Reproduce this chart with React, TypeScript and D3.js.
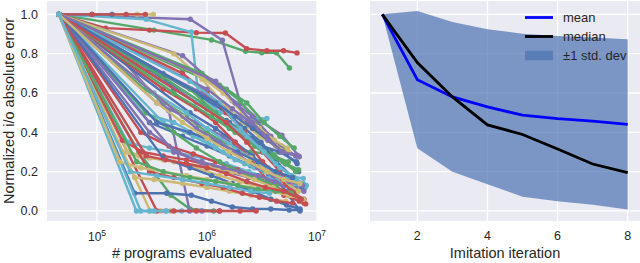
import React, { useEffect, useRef } from "react";
import * as d3 from "d3";

const palette = ["#4C72B0", "#55A868", "#C44E52", "#8172B2", "#CCB974", "#64B5CD"];

// programs evaluated (thousands), one row per search trace
const traceX: number[][] = [
  [45, 300, 800, 1600, 2600, 3800, 5200, 6800],
  [45, 330, 1100, 2240, 3150, 4270, 5620],
  [45, 120, 300, 800, 1470, 2290, 3500, 4970, 6580],
  [45, 705, 1380, 2013, 3000, 4800, 6900],
  [45, 137, 231, 325],
  [45, 280, 720, 830, 1300, 2480, 3500],
  [45, 90, 137],
  [45, 240, 470, 700, 1150],
  [45, 90, 184, 275],
  [45, 150, 450, 695, 900, 1300],
  [45, 305, 380, 470],
  [45, 228, 300, 420, 590],
  [45, 220, 430, 720, 1100, 1700, 2600, 3800, 5600, 7000],
  [45, 270, 420, 650, 1000, 1600, 2500, 3800, 5400],
  [45, 350, 500, 800, 1300, 2000, 2800],
  [45, 400, 900, 1500, 2300, 3400, 4800, 6400],
  [45, 190, 300, 500, 800, 1300, 2000, 3200, 4600],
  [45, 250, 330, 430],
  [45, 500, 1000, 1500, 2200, 3200, 4600, 6500],
  [45, 600, 1300, 2000, 2900, 4000, 5300],
  [45, 170, 260, 400, 650, 1100, 1800, 2900, 4300, 6000, 7600],
  [45, 350, 800, 1400, 2100, 3000, 4200, 5800],
  [45, 220, 330, 600, 1000, 1600, 2500, 3800, 5200],
  [45, 190, 300, 500, 900, 1500, 2400, 3600, 5200, 7800],
  [45, 700, 1200, 1800, 2600, 3700, 5200, 7000],
  [45, 400, 900, 1600, 2500, 3600, 4900, 6400],
  [45, 400, 800, 1200, 1800, 2600, 3600, 5000, 6900],
  [45, 600, 1100, 1700, 2600, 3800, 5200, 6800],
  [45, 500, 900, 1400, 2100, 3000, 4200, 5500],
  [45, 330, 650, 1000, 1600, 2500, 3600, 5200, 7500],
  [45, 300, 600, 1000, 1600, 2500, 3600, 5000, 6800],
  [45, 500, 1100, 1800, 2800, 4000, 5500],
  [45, 250, 450, 750, 1200, 1900, 2900, 4200, 6000, 7900],
  [45, 300, 550, 900, 1500, 2400, 3500, 5000, 7000],
  [45, 800, 1400, 2100, 3000, 4100, 5400],
  [45, 260, 500, 850, 1400, 2200, 3300, 4800, 7000],
  [45, 900, 1500, 2200, 3100, 4300, 5800, 7300],
  [45, 280, 500, 800, 1300, 2000, 3000, 4300],
  [45, 600, 1000, 1500, 2200, 3200, 4600, 6400],
  [45, 1000, 1700, 2500, 3500, 4800, 6500],
  [45, 170, 240, 400, 650, 1050, 1700, 2700, 4000, 5800],
  [45, 700, 1300, 2000, 3000, 4200, 5800, 7800],
  [45, 400, 700, 1100, 1700, 2600, 3800, 5300, 7000],
  [45, 700, 1200, 1800, 2700, 3800, 5200, 6800],
  [45, 300, 500, 900, 1400, 2100, 3000, 4300, 6000],
  [45, 500, 900, 1400, 2000, 2900, 4100, 5800, 7600],
  [45, 600, 1000, 1600, 2500, 3600, 5000, 6800],
  [45, 800, 1500, 2300, 3300, 4600, 6200, 8000],
  [45, 1200, 1800, 2600, 3600, 4900, 6600],
  [45, 900, 1500, 2300, 3300, 4600, 6200],
  [45, 1500, 2300, 3200, 4400, 5800, 7600],
  [45, 1200, 1800, 2600, 3600, 4800, 6500],
  [45, 160, 250, 400, 650, 1000, 1600, 2500, 3800, 5500, 7500],
  [45, 400, 750, 1200, 1800, 2700, 3900, 5400, 7500],
  [45, 350, 700, 1200, 1900, 2900, 4200, 6000],
  [45, 230, 400, 700, 1200, 1900, 2900, 4200, 5800],
  [45, 280, 420, 650, 1000, 1500, 2300, 3400, 5000, 7200],
  [45, 800, 1300, 2000, 2900, 4000, 5600, 7400],
  [45, 350, 600, 1000, 1600, 2400, 3500, 5000, 7000],
  [45, 200, 350, 600, 1000, 1600, 2500, 3700],
];

// normalized i/o absolute error, same rows
const traceY: number[][] = [
  [1, 0.72, 0.55, 0.45, 0.37, 0.3, 0.24, 0.2],
  [1, 0.92, 0.87, 0.812, 0.805, 0.805, 0.727],
  [1, 0.93, 0.92, 0.907, 0.905, 0.826, 0.815, 0.815, 0.804],
  [1, 0.975, 0.868, 0.548, 0.46, 0.386, 0.276],
  [1, 1, 1, 1],
  [1, 0.975, 0.91, 0.6, 0.5, 0.47, 0.47],
  [1, 1, 1],
  [1, 0.3, 0.08, 0.01, 0],
  [1, 1, 1, 1],
  [1, 0.8, 0.51, 0, 0, 0],
  [1, 0, 0, 0],
  [1, 0, 0, 0, 0],
  [1, 0.09, 0.09, 0.08, 0.05, 0.02, 0.01, 0.01, 0.005, 0.005],
  [1, 0.62, 0.55, 0.48, 0.4, 0.33, 0.3, 0.29, 0.3],
  [1, 0, 0, 0, 0, 0, 0],
  [1, 0.7, 0.6, 0.52, 0.45, 0.38, 0.33, 0.28],
  [1, 0.3, 0.27, 0.25, 0.22, 0.18, 0.15, 0.12, 0.1],
  [1, 0, 0, 0],
  [1, 0.62, 0.52, 0.46, 0.38, 0.33, 0.3, 0.25],
  [1, 0.72, 0.64, 0.56, 0.45, 0.36, 0.31],
  [1, 0.36, 0.3, 0.28, 0.26, 0.23, 0.2, 0.16, 0.12, 0.08, 0.04],
  [1, 0.55, 0.45, 0.38, 0.3, 0.25, 0.2, 0.15],
  [1, 0.17, 0.16, 0.14, 0.12, 0.1, 0.08, 0.06, 0.05],
  [1, 0.35, 0.32, 0.3, 0.27, 0.24, 0.2, 0.17, 0.15, 0.12],
  [1, 0.5, 0.42, 0.35, 0.28, 0.2, 0.1, 0.0],
  [1, 0.68, 0.55, 0.42, 0.35, 0.3, 0.25, 0.2],
  [1, 0.62, 0.52, 0.45, 0.35, 0.25, 0.15, 0.08, 0.05],
  [1, 0.79, 0.66, 0.56, 0.48, 0.38, 0.3, 0.28],
  [1, 0.8, 0.67, 0.55, 0.45, 0.38, 0.33, 0.3],
  [1, 0.6, 0.5, 0.42, 0.34, 0.27, 0.22, 0.18, 0.166],
  [1, 0.45, 0.38, 0.33, 0.28, 0.23, 0.19, 0.16, 0.14],
  [1, 0.6, 0.48, 0.4, 0.33, 0.28, 0.25],
  [1, 0.4, 0.33, 0.29, 0.25, 0.21, 0.17, 0.12, 0.08, 0.036],
  [1, 0.4, 0.3, 0.24, 0.2, 0.17, 0.15, 0.13, 0.12],
  [1, 0.7, 0.6, 0.5, 0.42, 0.36, 0.32],
  [1, 0.5, 0.45, 0.38, 0.3, 0.24, 0.2, 0.15, 0.13],
  [1, 0.58, 0.5, 0.42, 0.35, 0.25, 0.18, 0.12],
  [1, 0.5, 0.4, 0.32, 0.25, 0.2, 0.16, 0.13],
  [1, 0.7, 0.6, 0.5, 0.4, 0.3, 0.2, 0.1],
  [1, 0.62, 0.52, 0.45, 0.38, 0.3, 0.28],
  [1, 0.3, 0.28, 0.26, 0.24, 0.22, 0.2, 0.16, 0.12, 0.08],
  [1, 0.66, 0.55, 0.42, 0.32, 0.24, 0.18, 0.13],
  [1, 0.27, 0.22, 0.18, 0.14, 0.1, 0.06, 0.03, 0.01],
  [1, 0.62, 0.5, 0.42, 0.33, 0.28, 0.24, 0.21],
  [1, 0.2, 0.17, 0.14, 0.12, 0.09, 0.07, 0.05, 0.04],
  [1, 0.3, 0.25, 0.22, 0.2, 0.18, 0.15, 0.12, 0.1],
  [1, 0.48, 0.38, 0.32, 0.27, 0.2, 0.15, 0.1],
  [1, 0.55, 0.45, 0.38, 0.3, 0.22, 0.17, 0.13],
  [1, 0.55, 0.48, 0.42, 0.36, 0.3, 0.24],
  [1, 0.7, 0.62, 0.55, 0.45, 0.38, 0.32],
  [1, 0.45, 0.35, 0.25, 0.18, 0.1, 0.06],
  [1, 0.66, 0.55, 0.45, 0.36, 0.3, 0.285],
  [1, 0.25, 0.22, 0.2, 0.18, 0.16, 0.14, 0.12, 0.1, 0.08, 0.06],
  [1, 0.45, 0.38, 0.32, 0.26, 0.22, 0.19, 0.16, 0.14],
  [1, 0.45, 0.4, 0.35, 0.3, 0.25, 0.2, 0.17],
  [1, 0.25, 0.2, 0.17, 0.15, 0.13, 0.11, 0.1, 0.09],
  [1, 0.28, 0.26, 0.24, 0.22, 0.19, 0.15, 0.12, 0.1, 0.06],
  [1, 0.42, 0.35, 0.28, 0.22, 0.18, 0.15, 0.13],
  [1, 0.55, 0.45, 0.37, 0.3, 0.25, 0.2, 0.16, 0.14],
  [1, 0.2, 0.18, 0.16, 0.14, 0.12, 0.1, 0.09],
];

const iterations = [1, 2, 3, 4, 5, 6, 7, 8];
const meanErr = [1.0, 0.668, 0.58, 0.53, 0.487, 0.47, 0.457, 0.44];
const medianErr = [1.0, 0.755, 0.58, 0.438, 0.389, 0.315, 0.239, 0.195];
const stdErr = [0, 0.349, 0.381, 0.394, 0.415, 0.42, 0.425, 0.433];

const yTicks = [0, 0.2, 0.4, 0.6, 0.8, 1.0];
const logTicks = [1e5, 1e6, 1e7];
const iterTicks = [2, 4, 6, 8];
const legendLabels = ["mean", "median", "±1 std. dev"];

const font = "'Liberation Sans', Arial, sans-serif";
const textColor = "#262626";

export default function App() {
  const ref = useRef<SVGSVGElement>(null);

  useEffect(() => {
    const svg = d3.select(ref.current);
    svg.selectAll("*").remove();

    const top = 1;
    const bottom = 221;
    const y = d3.scaleLinear().domain([-0.051, 1.068]).range([bottom, top]);
    const xl = d3.scaleLog().domain([35100, 1e7]).range([47, 317]);
    const xr = d3.scaleLinear().domain([0.65, 8.35]).range([370, 640]);

    const panel = (x0: number, x1: number, vgrid: number[], id: string) => {
      const g = svg.append("g");
      g.append("rect")
        .attr("x", x0)
        .attr("y", top)
        .attr("width", x1 - x0)
        .attr("height", bottom - top)
        .attr("fill", "#EAEAF2");
      g.selectAll("line.h")
        .data(yTicks)
        .join("line")
        .attr("class", "h")
        .attr("x1", x0)
        .attr("x2", x1)
        .attr("y1", (d) => y(d))
        .attr("y2", (d) => y(d))
        .attr("stroke", "white")
        .attr("stroke-width", 1.3);
      g.selectAll("line.v")
        .data(vgrid)
        .join("line")
        .attr("class", "v")
        .attr("x1", (d) => d)
        .attr("x2", (d) => d)
        .attr("y1", top)
        .attr("y2", bottom)
        .attr("stroke", "white")
        .attr("stroke-width", 1.3);
      svg
        .append("clipPath")
        .attr("id", id)
        .append("rect")
        .attr("x", x0)
        .attr("y", top)
        .attr("width", x1 - x0)
        .attr("height", bottom - top);
      return svg.append("g").attr("clip-path", `url(#${id})`);
    };

    // left panel: search traces
    const left = panel(47, 317, logTicks.map((t) => xl(t)), "clipL");
    traceY.forEach((ys, k) => {
      const xs = traceX[k];
      const color = palette[k % palette.length];
      const line = d3
        .line<number>()
        .x((_, i) => xl(xs[i] * 1000))
        .y((d) => y(d));
      const tg = left.append("g");
      tg.append("path")
        .attr("d", line(ys))
        .attr("fill", "none")
        .attr("stroke", color)
        .attr("stroke-width", 2.4)
        .attr("stroke-linejoin", "round");
      tg.selectAll("circle")
        .data(ys)
        .join("circle")
        .attr("cx", (_, i) => xl(xs[i] * 1000))
        .attr("cy", (d) => y(d))
        .attr("r", 2.7)
        .attr("fill", color);
    });

    // right panel: imitation iterations
    const right = panel(370, 640, iterTicks.map((t) => xr(t)), "clipR");
    const band = d3
      .area<number>()
      .x((_, i) => xr(iterations[i]))
      .y0((d, i) => y(d - stdErr[i]))
      .y1((d, i) => y(d + stdErr[i]));
    right
      .append("path")
      .attr("d", band(meanErr))
      .attr("fill", "#4C72B0")
      .attr("fill-opacity", 0.7);
    const line = d3
      .line<number>()
      .x((_, i) => xr(iterations[i]))
      .y((d) => y(d));
    right
      .append("path")
      .attr("d", line(meanErr))
      .attr("fill", "none")
      .attr("stroke", "#0000FF")
      .attr("stroke-width", 2.8);
    right
      .append("path")
      .attr("d", line(medianErr))
      .attr("fill", "none")
      .attr("stroke", "#000000")
      .attr("stroke-width", 2.8);

    // legend
    const lg = svg.append("g").attr("transform", "translate(525,0)");
    const rows = [17.5, 36.5, 55.5];
    lg.append("line")
      .attr("x1", 0).attr("x2", 28)
      .attr("y1", rows[0]).attr("y2", rows[0])
      .attr("stroke", "#0000FF").attr("stroke-width", 2.8);
    lg.append("line")
      .attr("x1", 0).attr("x2", 28)
      .attr("y1", rows[1]).attr("y2", rows[1])
      .attr("stroke", "#000000").attr("stroke-width", 2.8);
    lg.append("rect")
      .attr("x", 0).attr("y", rows[2] - 4.7)
      .attr("width", 28).attr("height", 9.4)
      .attr("fill", "#4C72B0").attr("fill-opacity", 0.7);
    lg.selectAll("text")
      .data(legendLabels)
      .join("text")
      .attr("x", 38)
      .attr("y", (_, i) => rows[i] + 4.6)
      .text((d) => d)
      .attr("font-family", font)
      .attr("font-size", 13)
      .attr("fill", textColor);

    // y tick labels (shared axis, left only)
    svg
      .append("g")
      .selectAll("text")
      .data(yTicks)
      .join("text")
      .attr("x", 38)
      .attr("y", (d) => y(d) + 4.4)
      .attr("text-anchor", "end")
      .attr("font-family", font)
      .attr("font-size", 12.5)
      .attr("fill", textColor)
      .text((d) => d.toFixed(1));

    // log x tick labels
    const lt = svg
      .append("g")
      .selectAll("text")
      .data(logTicks)
      .join("text")
      .attr("x", (d) => xl(d))
      .attr("y", 241)
      .attr("text-anchor", "middle")
      .attr("font-family", font)
      .attr("font-size", 12)
      .attr("fill", textColor);
    lt.append("tspan").text("10");
    lt.append("tspan")
      .attr("dy", -5)
      .attr("font-size", 8.5)
      .text((d) => String(Math.round(Math.log10(d))));

    svg
      .append("g")
      .selectAll("text")
      .data(iterTicks)
      .join("text")
      .attr("x", (d) => xr(d))
      .attr("y", 240)
      .attr("text-anchor", "middle")
      .attr("font-family", font)
      .attr("font-size", 12.5)
      .attr("fill", textColor)
      .text((d) => String(d));

    // axis labels
    const label = (x: number, yy: number, s: string, rotate = false) =>
      svg
        .append("text")
        .attr("x", x)
        .attr("y", yy)
        .attr("text-anchor", "middle")
        .attr("font-family", font)
        .attr("font-size", 14.5)
        .attr("fill", textColor)
        .attr("transform", rotate ? `rotate(-90,${x},${yy})` : null)
        .text(s);
    label(182, 258, "# programs evaluated");
    label(505, 258, "Imitation iteration");
    label(13.5, 111, "Normalized i/o absolute error", true);
  }, []);

  return (
    <svg
      ref={ref}
      width={640}
      height={263}
      style={{ position: "absolute", left: 0, top: 0, background: "white" }}
    />
  );
}
